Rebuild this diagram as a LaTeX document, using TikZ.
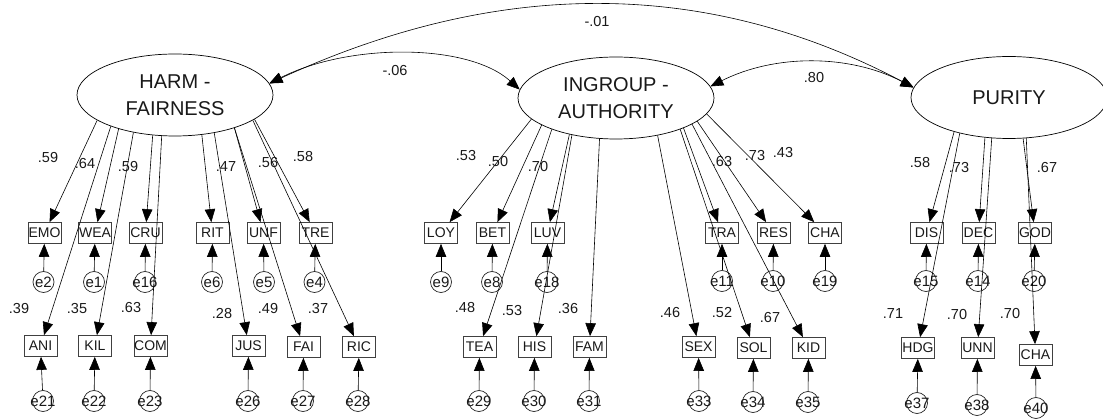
\documentclass[tikz,border=0pt]{standalone}
\usepackage{fontspec}
\setmainfont{Liberation Sans}
\usetikzlibrary{shapes.geometric,arrows.meta}
\newcommand\ctext[1]{\makebox[0pt]{#1}}

\begin{document}
\begin{tikzpicture}[x=1pt,y=-1pt,
  every node/.style={text=black!90},
  latent/.style={ellipse, draw=black, line width=0.7pt, minimum width=196pt,
    minimum height=82pt, inner sep=0pt, align=center,
    font=\fontsize{20}{26.5}\selectfont},
  obs/.style={rectangle, draw=black!75, line width=0.7pt, minimum width=33pt,
    minimum height=21pt, inner sep=0pt, font=\fontsize{14}{16}\selectfont},
  err/.style={circle, draw=black!85, line width=0.7pt, minimum size=21pt,
    inner sep=0pt, font=\fontsize{15}{16}\selectfont},
  lbl/.style={inner sep=0pt, font=\fontsize{14.5}{16}\selectfont},
  load/.style={-{Triangle[length=13pt,width=10.5pt]}, line width=0.6pt},
  covar/.style={{Triangle[length=13pt,width=10.5pt]}-{Triangle[length=13pt,width=10.5pt]},
    line width=0.6pt},
]
\useasboundingbox (0,0) rectangle (1103,419);

% ---------- latent factors ----------
\node[latent] (harm) at (175,95)   {HARM -\\FAIRNESS};
\node[latent] (ing)  at (616,98)   {INGROUP -\\AUTHORITY};
\node[latent] (pur)  at (1009,97.5) {PURITY};

% ---------- indicators, upper row ----------
\node[obs] (emo) at (44.5,233) {\ctext{EMO}};
\node[obs] (wea) at (95,233)   {\ctext{WEA}};
\node[obs] (cru) at (145.5,233) {\ctext{CRU}};
\node[obs] (rit) at (212.5,233) {\ctext{RIT}};
\node[obs] (unf) at (263.5,233) {\ctext{UNF}};
\node[obs] (tre) at (315.5,233) {\ctext{TRE}};
\node[obs] (loy) at (441,233)  {\ctext{LOY}};
\node[obs] (bet) at (492.5,233) {\ctext{BET}};
\node[obs] (luv) at (547.5,233) {\ctext{LUV}};
\node[obs] (tra) at (722,233)  {\ctext{TRA}};
\node[obs] (res) at (773.5,233) {\ctext{RES}};
\node[obs] (chai) at (825,233) {\ctext{CHA}};
\node[obs] (dis) at (926.5,233) {\ctext{DIS}};
\node[obs] (dec) at (978.5,233) {\ctext{DEC}};
\node[obs] (god) at (1035,233) {\ctext{GOD}};

% ---------- indicators, lower row ----------
\node[obs] (ani) at (40.5,346) {\ctext{ANI}};
\node[obs] (kil) at (95,346)   {\ctext{KIL}};
\node[obs] (com) at (150.5,346) {\ctext{COM}};
\node[obs] (jus) at (248.5,346) {\ctext{JUS}};
\node[obs] (fai) at (303.5,347) {\ctext{FAI}};
\node[obs] (ric) at (359,347)  {\ctext{RIC}};
\node[obs] (tea) at (479.5,347) {\ctext{TEA}};
\node[obs] (his) at (534.5,347) {\ctext{HIS}};
\node[obs] (fam) at (589.5,347) {\ctext{FAM}};
\node[obs] (sex) at (698.5,347) {\ctext{SEX}};
\node[obs] (sol) at (753.5,348) {\ctext{SOL}};
\node[obs] (kid) at (808.5,348) {\ctext{KID}};
\node[obs] (hdg) at (918,348)  {\ctext{HDG}};
\node[obs] (unn) at (977.5,348) {\ctext{UNN}};
\node[obs] (chap) at (1035.5,355) {\ctext{CHA}};

% ---------- error terms, upper row ----------
\node[err] (e2)  at (43.5,282) {\ctext{e2}};
\node[err] (e1)  at (94,282)   {\ctext{e1}};
\node[err] (e16) at (145,282)  {\ctext{e16}};
\node[err] (e6)  at (212,282)  {\ctext{e6}};
\node[err] (e5)  at (264,282)  {\ctext{e5}};
\node[err] (e4)  at (314.5,282) {\ctext{e4}};
\node[err] (e9)  at (441,282)  {\ctext{e9}};
\node[err] (e8)  at (492,282)  {\ctext{e8}};
\node[err] (e18) at (547,282)  {\ctext{e18}};
\node[err] (e11) at (722,281)  {\ctext{e11}};
\node[err] (e10) at (773,281)  {\ctext{e10}};
\node[err] (e19) at (825,281)  {\ctext{e19}};
\node[err] (e15) at (926,281)  {\ctext{e15}};
\node[err] (e14) at (978,281)  {\ctext{e14}};
\node[err] (e20) at (1034,281) {\ctext{e20}};

% ---------- error terms, lower row ----------
\node[err] (e21) at (43,401)  {\ctext{e21}};
\node[err] (e22) at (94,401)  {\ctext{e22}};
\node[err] (e23) at (150,401) {\ctext{e23}};
\node[err] (e26) at (248,401) {\ctext{e26}};
\node[err] (e27) at (303,401) {\ctext{e27}};
\node[err] (e28) at (358,401) {\ctext{e28}};
\node[err] (e29) at (479,401) {\ctext{e29}};
\node[err] (e30) at (534,401) {\ctext{e30}};
\node[err] (e31) at (589,401) {\ctext{e31}};
\node[err] (e33) at (699,401) {\ctext{e33}};
\node[err] (e34) at (753,402) {\ctext{e34}};
\node[err] (e35) at (808,402) {\ctext{e35}};
\node[err] (e37) at (917,403) {\ctext{e37}};
\node[err] (e38) at (977,405) {\ctext{e38}};
\node[err] (e40) at (1036,408) {\ctext{e40}};

% ---------- factor loadings ----------
\draw[load] (harm.198) -- (emo);
\draw[load] (harm.206) -- (ani);
\draw[load] (harm.211) -- (wea);
\draw[load] (harm.222) -- (kil);
\draw[load] (harm.241) -- (cru);
\draw[load] (harm.252) -- (com);
\draw[load] (harm.304) -- (rit);
\draw[load] (harm.316) -- (jus);
\draw[load] (harm.331) -- (unf);
\draw[load] (harm.331) -- (fai);
\draw[load] (harm.342) -- (ric);
\draw[load] (harm.343) -- (tre);

\draw[load] (ing.194) -- (loy);
\draw[load] (ing.200) -- (bet);
\draw[load] (ing.206) -- (tea);
\draw[load] (ing.218) -- (luv);
\draw[load] (ing.220) -- (his);
\draw[load] (ing.248) -- (fam);
\draw[load] (ing.318) -- (sex);
\draw[load] (ing.334) -- (sol);
\draw[load] (ing.336) -- (tra);
\draw[load] (ing.341) -- (kid);
\draw[load] (ing.344) -- (res);
\draw[load] (ing.350) -- (chai);

\draw[load] (pur.212) -- (dis);
\draw[load] (pur.216) -- (hdg);
\draw[load] (pur.239) -- (dec);
\draw[load] (pur.247) -- (unn);
\draw[load] (pur.289) -- (god);
\draw[load] (pur.293) -- (chap);

% ---------- error paths ----------
\foreach \e/\v in {e2/emo,e1/wea,e16/cru,e6/rit,e5/unf,e4/tre,
  e9/loy,e8/bet,e18/luv,e11/tra,e10/res,e19/chai,e15/dis,e14/dec,e20/god,
  e21/ani,e22/kil,e23/com,e26/jus,e27/fai,e28/ric,
  e29/tea,e30/his,e31/fam,e33/sex,e34/sol,e35/kid,e37/hdg,e38/unn,e40/chap}
  \draw[load] (\e) -- (\v);

% ---------- factor covariances ----------
\draw[covar] (harm.7) .. controls (349,43) and (468,43) .. (ing.175);
\draw[covar] (harm.7) .. controls (499,-22) and (706,-22) .. (pur.174);
\draw[covar] (ing.7) .. controls (775,54) and (849,54) .. (pur.174);

\node[lbl] (c1) at (395,71) {-.06};
\node[lbl] (c2) at (597,22) {-.01};
\node[lbl] (c3) at (814,78) {.80};

% ---------- loading estimates ----------
\node[lbl] (w1)  at (48,158)  {.59};
\node[lbl] (w2)  at (85,164)  {.64};
\node[lbl] (w3)  at (128,167) {.59};
\node[lbl] (w4)  at (226,167) {.47};
\node[lbl] (w5)  at (268,163) {.56};
\node[lbl] (w6)  at (303,157) {.58};
\node[lbl] (w7)  at (19,309)  {.39};
\node[lbl] (w8)  at (77,309)  {.35};
\node[lbl] (w9)  at (131,308) {.63};
\node[lbl] (w10) at (222,314) {.28};
\node[lbl] (w11) at (268,309) {.49};
\node[lbl] (w12) at (318,309) {.37};

\node[lbl] (w13) at (466,156) {.53};
\node[lbl] (w14) at (498,162) {.50};
\node[lbl] (w15) at (538,167) {.70};
\node[lbl] (w16) at (722,162) {.63};
\node[lbl] (w17) at (755,156) {.73};
\node[lbl] (w18) at (783,153) {.43};
\node[lbl] (w19) at (465,308) {.48};
\node[lbl] (w20) at (512,311) {.53};
\node[lbl] (w21) at (568,309) {.36};
\node[lbl] (w22) at (670,313) {.46};
\node[lbl] (w23) at (722,313) {.52};
\node[lbl] (w24) at (770,318) {.67};

\node[lbl] (w25) at (920,163)  {.58};
\node[lbl] (w26) at (959,168)  {.73};
\node[lbl] (w27) at (1047,168) {.67};
\node[lbl] (w28) at (893,314)  {.71};
\node[lbl] (w29) at (957,315)  {.70};
\node[lbl] (w30) at (1010,314) {.70};
\end{tikzpicture}
\end{document}
